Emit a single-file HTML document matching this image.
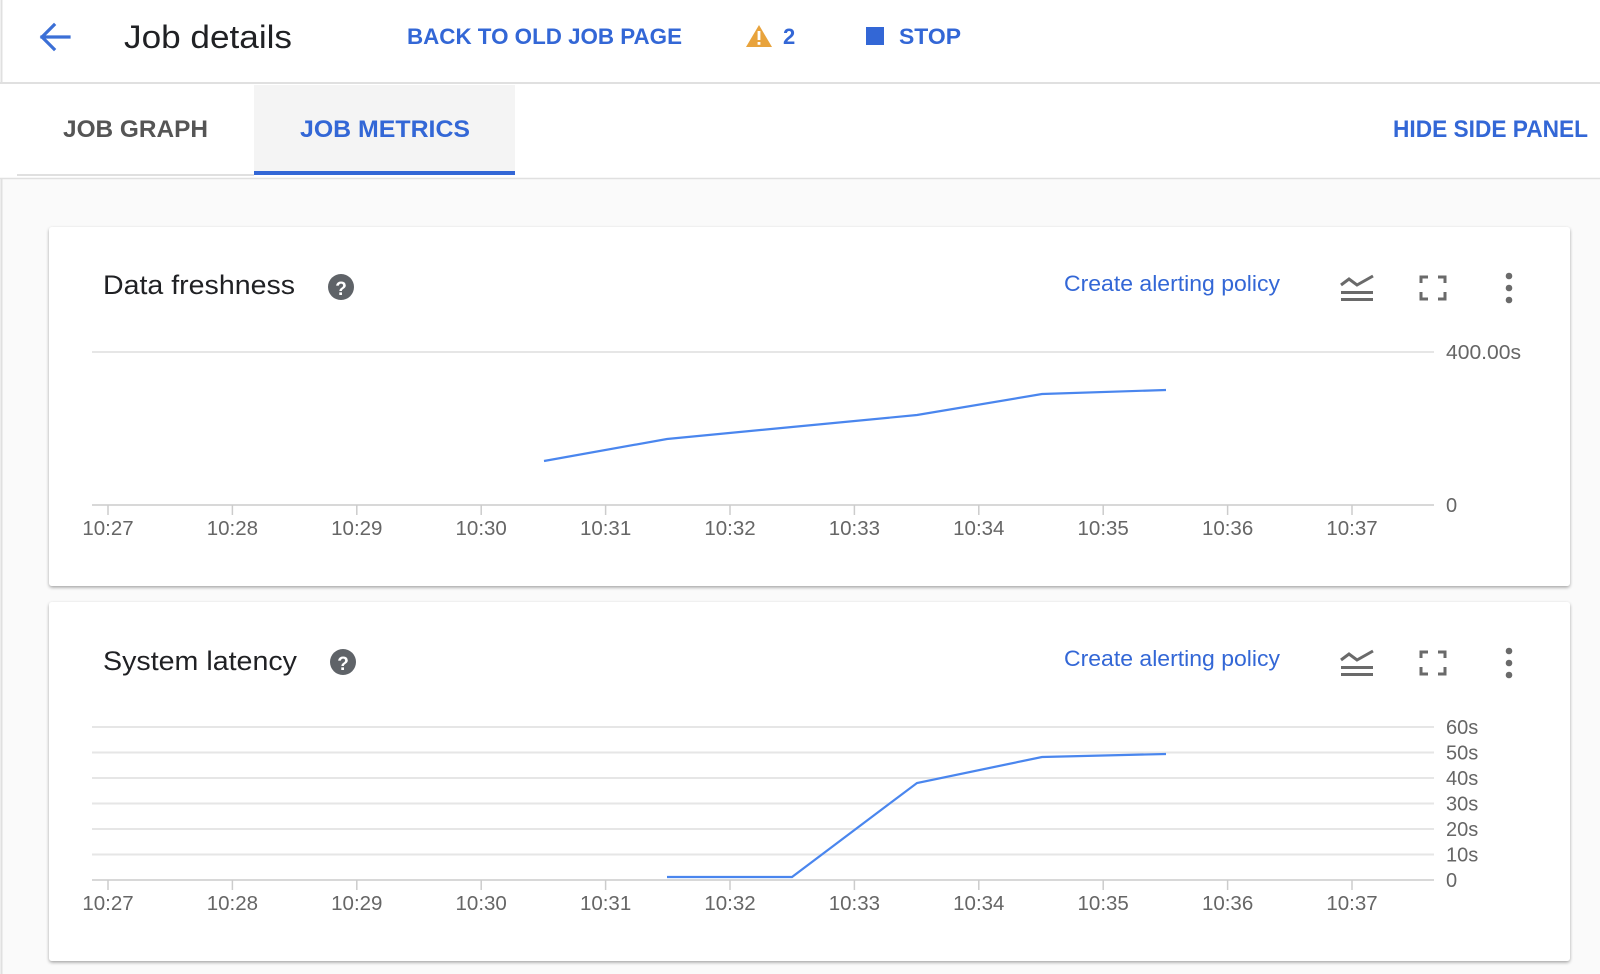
<!DOCTYPE html>
<html><head><meta charset="utf-8"><style>
html,body{margin:0;padding:0;background:#fff;}
svg{display:block;font-family:"Liberation Sans",Arial,sans-serif;}
</style></head><body>
<svg width="1600" height="974" viewBox="0 0 1600 974" xmlns="http://www.w3.org/2000/svg">
<defs>
<filter id="sh" x="-2%" y="-5%" width="104%" height="112%">
<feDropShadow dx="0" dy="1.5" stdDeviation="1.5" flood-color="#000" flood-opacity="0.35"/>
</filter>
</defs>
<rect width="1600" height="974" fill="#fff"/>
<rect x="0" y="178" width="1600" height="796" fill="#fafafa"/>
<line x1="1.5" y1="0" x2="1.5" y2="974" stroke="#e0e0e0" stroke-width="2"/>
<!-- header -->
<line x1="0" y1="83" x2="1600" y2="83" stroke="#e0e0e0" stroke-width="2"/>
<g stroke="#3b6fd6" stroke-width="3.2" fill="none" stroke-linecap="square">
<line x1="42" y1="37" x2="69" y2="37"/>
<polyline points="54,25 42,37 54,49"/>
</g>
<text x="124" y="48" font-size="32" fill="#202124" textLength="168" lengthAdjust="spacingAndGlyphs">Job details</text>
<text x="407" y="44" font-size="22" font-weight="bold" fill="#3367d6" textLength="275" lengthAdjust="spacingAndGlyphs">BACK TO OLD JOB PAGE</text>
<polygon points="759,25 772,47 746,47" fill="#e8a33c"/>
<rect x="757.6" y="31" width="2.8" height="9" fill="#fff"/>
<rect x="757.6" y="42" width="2.8" height="2.8" fill="#fff"/>
<text x="783" y="44" font-size="22" font-weight="bold" fill="#3367d6">2</text>
<rect x="866" y="27" width="18" height="18" fill="#3367d6"/>
<text x="899" y="44" font-size="22" font-weight="bold" fill="#3367d6" textLength="62" lengthAdjust="spacingAndGlyphs">STOP</text>
<!-- tabs -->
<rect x="0" y="84" width="1600" height="94" fill="#fff"/>
<rect x="254" y="85" width="261" height="90" fill="#f4f4f4"/>
<rect x="254" y="171" width="261" height="4" fill="#3367d6"/>
<line x1="17" y1="175" x2="254" y2="175" stroke="#e0e0e0" stroke-width="2"/>
<line x1="0" y1="178.5" x2="1600" y2="178.5" stroke="#e0e0e0" stroke-width="1.5"/>
<text x="63" y="137" font-size="24" font-weight="bold" fill="#555" textLength="145" lengthAdjust="spacingAndGlyphs">JOB GRAPH</text>
<text x="300" y="137" font-size="24" font-weight="bold" fill="#3367d6" textLength="170" lengthAdjust="spacingAndGlyphs">JOB METRICS</text>
<text x="1393" y="137" font-size="24" font-weight="bold" fill="#3367d6" textLength="195" lengthAdjust="spacingAndGlyphs">HIDE SIDE PANEL</text>

<!-- card 1 -->
<rect x="49" y="227" width="1521" height="359" rx="3" fill="#fff" filter="url(#sh)"/>
<text x="103" y="294" font-size="27" fill="#202124" textLength="192" lengthAdjust="spacingAndGlyphs">Data freshness</text>
<circle cx="341" cy="287" r="13" fill="#5f6368"/>
<text x="341" y="295" font-size="19" font-weight="bold" fill="#fff" text-anchor="middle">?</text>
<text x="1064" y="291" font-size="22" fill="#3367d6" textLength="216" lengthAdjust="spacingAndGlyphs">Create alerting policy</text>
<g id="icons1">
<g fill="#6a6a6a">
<rect x="1341" y="291" width="32" height="3"/>
<rect x="1341" y="298" width="32" height="3"/>
</g>
<polyline points="1341,285 1349,279 1357,285 1373,276" fill="none" stroke="#6a6a6a" stroke-width="3"/>
<g fill="none" stroke="#6a6a6a" stroke-width="3">
<polyline points="1421,283 1421,277 1428,277"/>
<polyline points="1438,277 1445,277 1445,283"/>
<polyline points="1421,292 1421,299 1428,299"/>
<polyline points="1438,299 1445,299 1445,292"/>
</g>
<g fill="#6a6a6a">
<circle cx="1509" cy="276" r="3.3"/><circle cx="1509" cy="288" r="3.3"/><circle cx="1509" cy="300" r="3.3"/>
</g>
</g>
<line x1="92" y1="352" x2="1434" y2="352" stroke="#e6e6e6" stroke-width="2"/>
<line x1="92" y1="505" x2="1434" y2="505" stroke="#d8d8d8" stroke-width="2"/>
<text x="1446" y="359" font-size="20" fill="#666" textLength="75" lengthAdjust="spacingAndGlyphs">400.00s</text>
<text x="1446" y="512" font-size="20" fill="#666">0</text>
<g stroke="#ccc" stroke-width="1.5">
<line x1="108" y1="505" x2="108" y2="515"/><line x1="232.4" y1="505" x2="232.4" y2="515"/><line x1="356.8" y1="505" x2="356.8" y2="515"/><line x1="481.2" y1="505" x2="481.2" y2="515"/><line x1="605.6" y1="505" x2="605.6" y2="515"/><line x1="730" y1="505" x2="730" y2="515"/><line x1="854.4" y1="505" x2="854.4" y2="515"/><line x1="978.8" y1="505" x2="978.8" y2="515"/><line x1="1103.2" y1="505" x2="1103.2" y2="515"/><line x1="1227.6" y1="505" x2="1227.6" y2="515"/><line x1="1352" y1="505" x2="1352" y2="515"/>
</g>
<g font-size="20.5" fill="#666" text-anchor="middle">
<text x="108" y="535">10:27</text><text x="232.4" y="535">10:28</text><text x="356.8" y="535">10:29</text><text x="481.2" y="535">10:30</text><text x="605.6" y="535">10:31</text><text x="730" y="535">10:32</text><text x="854.4" y="535">10:33</text><text x="978.8" y="535">10:34</text><text x="1103.2" y="535">10:35</text><text x="1227.6" y="535">10:36</text><text x="1352" y="535">10:37</text>
</g>
<polyline points="544,461 667,439 792,427 917,415 1042,394 1166,390" fill="none" stroke="#4a86ee" stroke-width="2.2"/>

<!-- card 2 -->
<rect x="49" y="602" width="1521" height="359" rx="3" fill="#fff" filter="url(#sh)"/>
<text x="103" y="670" font-size="27" fill="#202124" textLength="194" lengthAdjust="spacingAndGlyphs">System latency</text>
<circle cx="343" cy="662" r="13" fill="#5f6368"/>
<text x="343" y="670" font-size="19" font-weight="bold" fill="#fff" text-anchor="middle">?</text>
<text x="1064" y="666" font-size="22" fill="#3367d6" textLength="216" lengthAdjust="spacingAndGlyphs">Create alerting policy</text>
<use href="#icons1" transform="translate(0,375)"/>
<g stroke="#e6e6e6" stroke-width="2">
<line x1="92" y1="727" x2="1434" y2="727"/><line x1="92" y1="752.5" x2="1434" y2="752.5"/><line x1="92" y1="778" x2="1434" y2="778"/><line x1="92" y1="803.5" x2="1434" y2="803.5"/><line x1="92" y1="829" x2="1434" y2="829"/><line x1="92" y1="854.5" x2="1434" y2="854.5"/>
</g>
<line x1="92" y1="880" x2="1434" y2="880" stroke="#d8d8d8" stroke-width="2"/>
<g font-size="20" fill="#666">
<text x="1446" y="734">60s</text><text x="1446" y="759.5">50s</text><text x="1446" y="785">40s</text><text x="1446" y="810.5">30s</text><text x="1446" y="836">20s</text><text x="1446" y="861.5">10s</text><text x="1446" y="887">0</text>
</g>
<g stroke="#ccc" stroke-width="1.5">
<line x1="108" y1="880" x2="108" y2="890"/><line x1="232.4" y1="880" x2="232.4" y2="890"/><line x1="356.8" y1="880" x2="356.8" y2="890"/><line x1="481.2" y1="880" x2="481.2" y2="890"/><line x1="605.6" y1="880" x2="605.6" y2="890"/><line x1="730" y1="880" x2="730" y2="890"/><line x1="854.4" y1="880" x2="854.4" y2="890"/><line x1="978.8" y1="880" x2="978.8" y2="890"/><line x1="1103.2" y1="880" x2="1103.2" y2="890"/><line x1="1227.6" y1="880" x2="1227.6" y2="890"/><line x1="1352" y1="880" x2="1352" y2="890"/>
</g>
<g font-size="20.5" fill="#666" text-anchor="middle">
<text x="108" y="910">10:27</text><text x="232.4" y="910">10:28</text><text x="356.8" y="910">10:29</text><text x="481.2" y="910">10:30</text><text x="605.6" y="910">10:31</text><text x="730" y="910">10:32</text><text x="854.4" y="910">10:33</text><text x="978.8" y="910">10:34</text><text x="1103.2" y="910">10:35</text><text x="1227.6" y="910">10:36</text><text x="1352" y="910">10:37</text>
</g>
<polyline points="667,877 792,877 917,783 1042,757 1166,754" fill="none" stroke="#4a86ee" stroke-width="2.2"/>
</svg>
</body></html>
